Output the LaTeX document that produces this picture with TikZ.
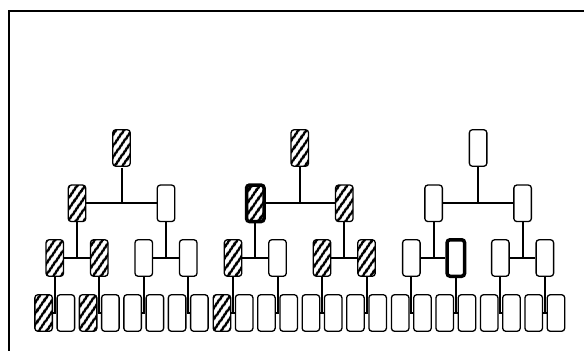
\documentclass[tikz,border=0pt]{standalone}
\usetikzlibrary{patterns.meta, backgrounds}

\begin{document}
\begin{tikzpicture}[
      x=1pt, y=-1pt,
      box/.style={rectangle, draw, line width=1.3pt, rounded corners=3pt, inner sep=0pt, minimum width=17.5pt, minimum height=36.5pt},
      pb/.style={box, fill=white},
      hb/.style={box, preaction={fill=white}, pattern={Lines[angle=55, distance=6.5pt, line width=3pt]}},
      px/.style={pb, line width=3.5pt},
      hx/.style={hb, line width=3.5pt},
      link/.style={line width=2pt},
      frame/.style={line width=2pt}
    ]
    \useasboundingbox (0,0) rectangle (584,351);
    \draw[frame] (584,11) -- (9,11) -- (9,351);

    % one tree per entry: name / root x / root / level 1 / level 2 / leaves
    \foreach \t/\ox/\rs/\ls/\ms/\fs in {
        a/121.5/hb/{hb,pb}/{hb,hb,pb,pb}/{hb,pb,hb,pb,pb,pb,pb,pb},
        b/299.8/hb/{hx,hb}/{hb,pb,hb,hb}/{hb,pb,pb,pb,pb,pb,pb,pb},
        c/478.1/pb/{pb,pb}/{pb,px,pb,pb}/{pb,pb,pb,pb,pb,pb,pb,pb}} {
      \node[\rs] (\t r) at (\ox,148) {};
      \foreach \s [count=\i from 0] in \ls
        \node[\s] (\t l\i) at (\ox-44.5+89*\i,203.3) {};
      \foreach \s [count=\i from 0] in \ms
        \node[\s] (\t m\i) at (\ox-66.75+44.5*\i,258) {};
      \foreach \s [count=\i from 0] in \fs
        \node[\s] (\t f\i) at (\ox-77.9+22.25*\i,313) {};

      \begin{scope}[on background layer]
        \draw[link] (\t r) -- (\t r |- \t l0);
        \draw[link] (\t l0) -- (\t l1);
        \foreach \i/\a/\b in {0/0/1, 1/2/3} {
          \draw[link] (\t l\i) -- (\t l\i |- \t m0);
          \draw[link] (\t m\a) -- (\t m\b);
        }
        \foreach \i/\a/\b in {0/0/1, 1/2/3, 2/4/5, 3/6/7} {
          \draw[link] (\t m\i) -- (\t m\i |- \t f0);
          \draw[link] (\t f\a) -- (\t f\b);
        }
      \end{scope}
    }
  \end{tikzpicture}
\end{document}
